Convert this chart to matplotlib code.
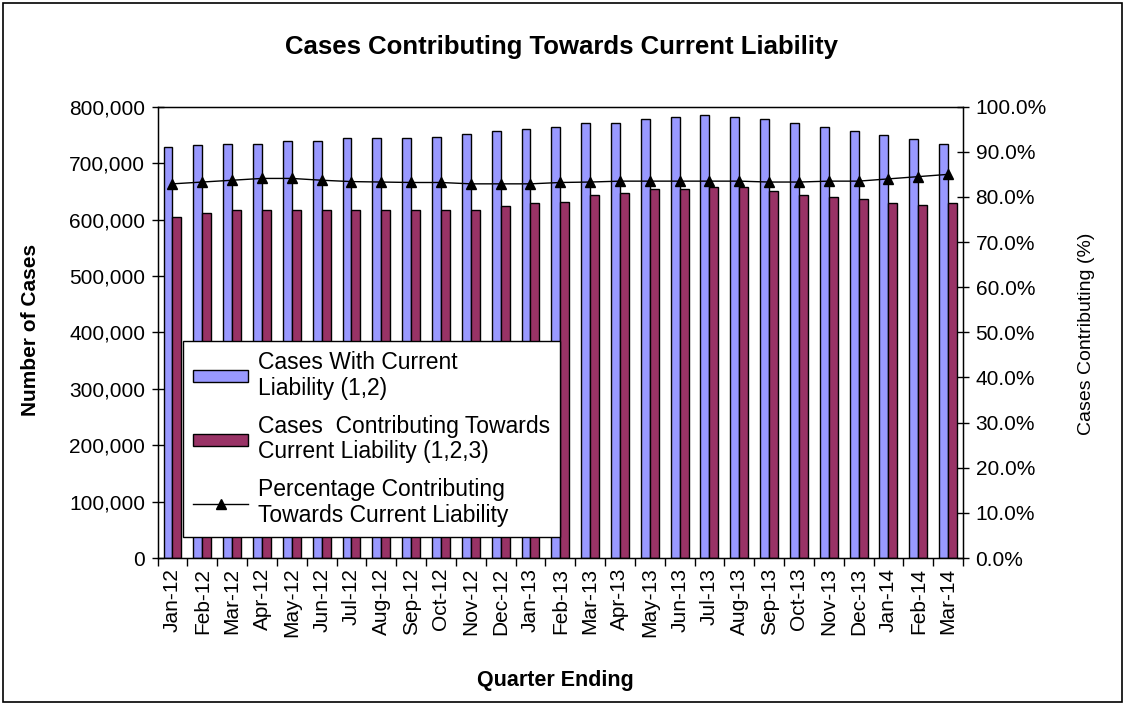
import numpy as np
import matplotlib
matplotlib.use("Agg")
import matplotlib.pyplot as plt
from matplotlib.ticker import FuncFormatter, FixedLocator
from matplotlib.patches import Rectangle

plt.rcParams['font.family'] = ['Liberation Sans', 'DejaVu Sans']

months = ["Jan-12", "Feb-12", "Mar-12", "Apr-12", "May-12", "Jun-12", "Jul-12",
          "Aug-12", "Sep-12", "Oct-12", "Nov-12", "Dec-12", "Jan-13", "Feb-13",
          "Mar-13", "Apr-13", "May-13", "Jun-13", "Jul-13", "Aug-13", "Sep-13",
          "Oct-13", "Nov-13", "Dec-13", "Jan-14", "Feb-14", "Mar-14"]

# cases with current liability (1,2)
with_liability = [728600, 731600, 734600, 734600, 738800, 738800, 743600,
                  743600, 743600, 746400, 750700, 756600, 760200, 764300,
                  770300, 770300, 778000, 781600, 785200, 781600, 778000,
                  770300, 764300, 757100, 749500, 742300, 734600]

# cases contributing towards current liability (1,2,3)
contributing = [603600, 611400, 617300, 617300, 617300, 617300, 617300,
                617300, 617300, 617300, 617300, 624500, 628600, 631600,
                643600, 646400, 653600, 653600, 657100, 657100, 650000,
                643600, 639300, 635700, 628600, 625600, 628600]

# percentage contributing
pct = [82.9, 83.3, 83.7, 84.1, 84.1, 83.7, 83.4, 83.3, 83.2, 83.2, 82.9,
       82.9, 82.9, 83.2, 83.3, 83.5, 83.5, 83.5, 83.5, 83.5, 83.3, 83.3,
       83.5, 83.5, 84.0, 84.5, 85.0]

blue = "#9999FF"
maroon = "#993366"

fig = plt.figure(figsize=(11.27, 7.05), dpi=100)
ax = fig.add_axes([0.1398, 0.2085, 0.7147, 0.6402])

x = np.arange(len(months))
w = 0.3
b1 = ax.bar(x - w / 2, with_liability, w, color=blue, edgecolor="black",
            linewidth=1.0, label="Cases With Current\nLiability (1,2)")
b2 = ax.bar(x + w / 2, contributing, w, color=maroon, edgecolor="black",
            linewidth=1.0, label="Cases  Contributing Towards\nCurrent Liability (1,2,3)")

ax.set_xlim(-0.5, len(months) - 0.5)
ax.set_ylim(0, 800000)
ax.set_yticks(np.arange(0, 800001, 100000))
ax.yaxis.set_major_formatter(FuncFormatter(lambda v, p: f"{int(v):,}"))
ax.set_xticks(x)
ax.set_xticklabels(months, rotation=90, fontsize=15)
ax.xaxis.set_minor_locator(FixedLocator(np.arange(-0.5, len(months), 1)))
ax.tick_params(axis="x", which="major", length=0, pad=7)
ax.tick_params(axis="x", which="minor", length=6, width=1, direction="out")
ax.tick_params(axis="y", labelsize=15, length=8, width=1, direction="inout", pad=5)
for s in ax.spines.values():
    s.set_color("black")
    s.set_linewidth(1.0)

ax2 = ax.twinx()
l1, = ax2.plot(x, pct, color="black", linewidth=1.0, marker="^",
               markersize=7, markerfacecolor="black",
               label="Percentage Contributing\nTowards Current Liability")
ax2.set_ylim(0, 100)
ax2.set_yticks(np.arange(0, 101, 10))
ax2.yaxis.set_major_formatter(FuncFormatter(lambda v, p: f"{v:.1f}%"))
ax2.tick_params(axis="y", labelsize=15, length=8, width=1, direction="inout", pad=5)

fig.text(0.498, 0.933, "Cases Contributing Towards Current Liability",
         ha="center", va="center", fontsize=18.5, fontweight="bold")
fig.text(0.027, 0.532, "Number of Cases", rotation=90, ha="center",
         va="center", fontsize=15, fontweight="bold")
fig.text(0.4925, 0.035, "Quarter Ending", ha="center", va="center",
         fontsize=15.5, fontweight="bold")
fig.text(0.9645, 0.527, "Cases Contributing (%)", rotation=90, ha="center",
         va="center", fontsize=14)

leg = ax2.legend(handles=[b1, b2, l1], loc="lower left",
                 bbox_to_anchor=(0.1624, 0.238), bbox_transform=fig.transFigure,
                 fontsize=16.5, frameon=True, fancybox=False, framealpha=1,
                 edgecolor="black", borderaxespad=0, handlelength=2.4,
                 handleheight=0.45, labelspacing=0.65, borderpad=0.45,
                 handletextpad=0.4)
leg.get_frame().set_linewidth(1.0)
for t in leg.get_texts():
    t.set_linespacing(1.15)

fig.patches.append(Rectangle((0.003, 0.004), 0.993, 0.992, transform=fig.transFigure,
                             fill=False, edgecolor="black", linewidth=1.2))

fig.savefig("out.png", dpi=100)
